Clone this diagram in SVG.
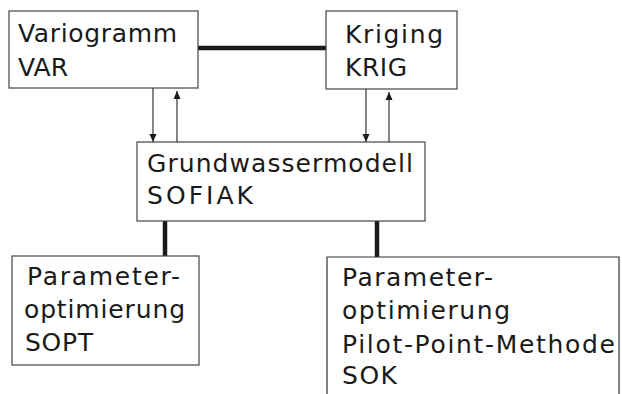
<svg xmlns="http://www.w3.org/2000/svg" width="622" height="394" viewBox="0 0 622 394">
<style>
.box{fill:#fff;stroke:#444;stroke-width:1.2}
.t{font-family:"DejaVu Sans","Liberation Sans",sans-serif;font-size:25px;fill:#1a1a1a}
.thick{stroke:#1a1a1a;stroke-width:4.5;fill:none}
.thin{stroke:#333;stroke-width:1.2;fill:none}
</style>
<defs>
<marker id="ah" viewBox="0 0 8 14" refX="8" refY="7" markerWidth="8" markerHeight="14" markerUnits="userSpaceOnUse" orient="auto">
<path d="M0,3.5 L8,7 L0,10.5 Z" fill="#1a1a1a"/>
</marker>
</defs>
<rect width="622" height="394" fill="#fff"/>
<g id="connectors">
<line class="thick" x1="198" y1="48" x2="327" y2="48"/>
<line class="thin" x1="153" y1="88" x2="153" y2="142" marker-end="url(#ah)"/>
<line class="thin" x1="177" y1="142" x2="177" y2="91" marker-end="url(#ah)"/>
<line class="thin" x1="366" y1="89" x2="366" y2="142" marker-end="url(#ah)"/>
<line class="thin" x1="389" y1="142" x2="389" y2="92" marker-end="url(#ah)"/>
<line class="thick" x1="165" y1="221" x2="165" y2="257"/>
<line class="thick" x1="377" y1="221" x2="377" y2="257"/>
</g>
<g id="var">
<rect class="box" x="9" y="11" width="189" height="77"/>
<text class="t" x="18" y="42" textLength="159" lengthAdjust="spacing">Variogramm</text>
<text class="t" x="18" y="76" textLength="50" lengthAdjust="spacing">VAR</text>
</g>
<g id="krig">
<rect class="box" x="326" y="11" width="131" height="78"/>
<text class="t" x="345" y="43" textLength="98" lengthAdjust="spacing">Kriging</text>
<text class="t" x="345" y="76" textLength="62" lengthAdjust="spacing">KRIG</text>
</g>
<g id="sofiak">
<rect class="box" x="137" y="142" width="288" height="79"/>
<text class="t" x="147" y="172" textLength="266" lengthAdjust="spacing">Grundwassermodell</text>
<text class="t" x="147" y="204" textLength="106" lengthAdjust="spacing">SOFIAK</text>
</g>
<g id="sopt">
<rect class="box" x="12" y="256" width="187" height="109"/>
<text class="t" x="27" y="285" textLength="153" lengthAdjust="spacing">Parameter-</text>
<text class="t" x="24" y="318" textLength="161" lengthAdjust="spacing">optimierung</text>
<text class="t" x="25" y="351" textLength="68" lengthAdjust="spacing">SOPT</text>
</g>
<g id="sok">
<path class="thin" d="M327,394 V257 H619 V394" stroke="#555"/>
<text class="t" x="342" y="286" textLength="151" lengthAdjust="spacing">Parameter-</text>
<text class="t" x="342" y="319" textLength="168" lengthAdjust="spacing">optimierung</text>
<text class="t" x="342" y="353" textLength="273" lengthAdjust="spacing">Pilot-Point-Methode</text>
<text class="t" x="342" y="384" textLength="55" lengthAdjust="spacing">SOK</text>
</g>
</svg>
